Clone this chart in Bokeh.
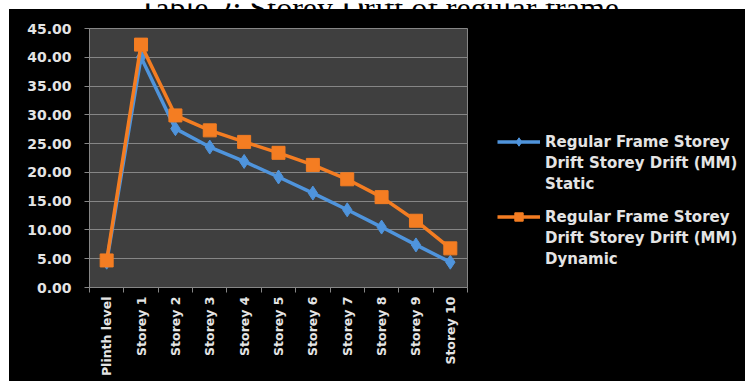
from bokeh.plotting import figure
from bokeh.models import (Range1d, FixedTicker, NumeralTickFormatter, Legend,
                          LegendItem, Spacer)
from bokeh.layouts import column, row
from bokeh.core.properties import value
from bokeh.embed import file_html
from bokeh.resources import INLINE

# Storey drift (mm) per level
categories = ["Plinth level", "Storey 1", "Storey 2", "Storey 3", "Storey 4",
              "Storey 5", "Storey 6", "Storey 7", "Storey 8", "Storey 9",
              "Storey 10"]
static_drift = [4.4, 40.0, 27.6, 24.4, 21.9, 19.2, 16.4, 13.5, 10.5, 7.4, 4.4]
dynamic_drift = [4.7, 42.2, 29.9, 27.3, 25.3, 23.4, 21.3, 18.8, 15.7, 11.6, 6.8]
y_ticks = [0, 5, 10, 15, 20, 25, 30, 35, 40, 45]

title_text = "Table 2: Storey Drift of regular frame"
static_label = ["Regular Frame Storey", "Drift Storey Drift (MM)", "Static"]
dynamic_label = ["Regular Frame Storey", "Drift Storey Drift (MM)", "Dynamic"]

BLUE = "#4f94dc"
ORANGE = "#f47d22"
TEXT = "#e4e4e4"
GRID = "#868686"
FONT = "DejaVu Sans"

# caption strip above the chart
cap = figure(width=745, height=9, x_range=Range1d(0, 745), y_range=Range1d(0, 9),
             x_axis_type=None, y_axis_type=None, toolbar_location=None,
             output_backend="svg", min_border=0, outline_line_color=None,
             background_fill_color="white", border_fill_color="white")
cap.grid.visible = False
cap.text(x=[378], y=[5], text=[title_text], text_align="center",
         text_baseline="alphabetic", text_font=value("Liberation Serif"),
         text_font_size="32px", text_color="black")

xs = list(range(len(categories)))

p = figure(width=468, height=372, x_range=Range1d(-0.5, len(categories) - 0.5),
           y_range=Range1d(0, 45), toolbar_location=None, output_backend="svg",
           background_fill_color="#3f3f3f", border_fill_color="black",
           outline_line_color=GRID, outline_line_width=1,
           min_border_left=80, min_border_right=10, min_border_top=19,
           min_border_bottom=94)

# y axis
p.yaxis.ticker = FixedTicker(ticks=y_ticks)
p.yaxis.formatter = NumeralTickFormatter(format="0.00")
p.yaxis.major_label_text_font = FONT
p.yaxis.major_label_text_font_size = "14px"
p.yaxis.major_label_text_font_style = "bold"
p.yaxis.major_label_text_color = TEXT
p.yaxis.major_tick_in = 0
p.yaxis.major_tick_out = 5
p.yaxis.major_label_standoff = 13

# x axis: labels at category centres, ticks between categories
p.xaxis.ticker = FixedTicker(ticks=xs,
                             minor_ticks=[i - 0.5 for i in range(len(categories) + 1)])
p.xaxis.major_label_overrides = {i: c for i, c in zip(xs, categories)}
p.xaxis.major_label_orientation = 3.14159265 / 2
p.xaxis.major_label_text_font = FONT
p.xaxis.major_label_text_font_size = "12.5px"
p.xaxis.major_label_text_font_style = "bold"
p.xaxis.major_label_text_color = TEXT
p.xaxis.major_tick_in = 0
p.xaxis.major_tick_out = 0
p.xaxis.minor_tick_in = 0
p.xaxis.minor_tick_out = 5
p.xaxis.major_label_standoff = 4

for ax in (p.xaxis, p.yaxis):
    ax.axis_line_color = GRID
    ax.major_tick_line_color = GRID
    ax.minor_tick_line_color = GRID
p.yaxis.minor_tick_line_color = None

p.xgrid.visible = False
p.ygrid.ticker = FixedTicker(ticks=y_ticks)
p.ygrid.grid_line_color = GRID
p.ygrid.grid_line_width = 1

# series
LINE_W = 3.5
MARK_SIZE = 13
p.line(xs, static_drift, line_color=BLUE, line_width=LINE_W)
p.scatter(xs, static_drift, marker="diamond", size=MARK_SIZE + 1, fill_color=BLUE,
          line_color=BLUE)
p.line(xs, dynamic_drift, line_color=ORANGE, line_width=LINE_W)
p.scatter(xs, dynamic_drift, marker="square", size=MARK_SIZE, fill_color=ORANGE,
          line_color=ORANGE)

# key panel to the right of the chart
key = figure(width=268, height=372, x_range=Range1d(0, 1), y_range=Range1d(0, 1),
             x_axis_type=None, y_axis_type=None, toolbar_location=None,
             output_backend="svg", min_border=0, outline_line_color=None,
             background_fill_color="black", border_fill_color="black")
key.grid.visible = False

NAN = float("nan")


def key_block(color, marker, size, labels, bottom):
    ln = key.line([NAN], [NAN], line_color=color, line_width=LINE_W)
    mk = key.scatter([NAN], [NAN], marker=marker, size=size, fill_color=color,
                     line_color=color)
    blank = key.line([NAN], [NAN], line_alpha=0)
    items = [LegendItem(label=labels[0], renderers=[ln, mk])]
    items += [LegendItem(label=t, renderers=[blank]) for t in labels[1:]]
    lg = Legend(items=items, location=(20, bottom), background_fill_alpha=0,
                border_line_color=None, label_text_color=TEXT,
                label_text_font=FONT, label_text_font_size="15px",
                label_text_font_style="bold",
                glyph_width=43, glyph_height=21, label_height=21,
                label_standoff=5, spacing=0, padding=0, margin=0)
    key.add_layout(lg, "center")


key_block(BLUE, "diamond", MARK_SIZE + 1, static_label, 93)
key_block(ORANGE, "square", MARK_SIZE, dynamic_label, 18)

chart = row(Spacer(width=9, height=372, styles={"background-color": "white"}),
            p, key, styles={"background-color": "black"})
layout = column(cap, chart)

open("out.html", "w").write(file_html(layout, INLINE))
